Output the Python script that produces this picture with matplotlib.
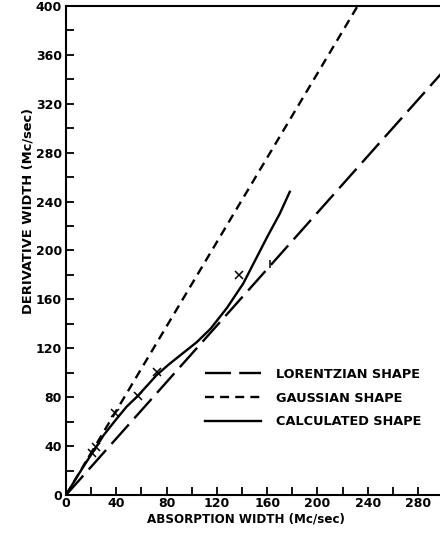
import numpy as np
import matplotlib
matplotlib.use("Agg")
import matplotlib.pyplot as plt

lor_x = [0, 300]
lor_y = [0, 346.4]
gau_x = [0, 232]
gau_y = [0, 400]
calc_x = [0, 10, 20, 30, 40, 48, 57, 65, 72, 82, 93, 104, 115, 128, 141, 150, 160, 170, 178]
calc_y = [0, 17, 33, 49, 62, 72, 81, 90, 98, 107, 116, 125, 136, 153, 173, 191, 211, 230, 248]
pts_x = [20.7, 23.8, 39, 57.3, 72.4, 137.8]
pts_y = [34.4, 39, 67, 81, 100.5, 180]
lor_mark_x = [162]
lor_mark_y = [189]

xticks = np.arange(0, 300, 20)
yticks = np.arange(0, 401, 20)

plt.rcParams['font.family'] = ['DejaVu Sans']
plt.rcParams['font.weight'] = 'bold'

fig = plt.figure(figsize=(4.4, 5.41), dpi=100)
ax = fig.add_axes([0.15, 0.085, 0.85, 0.904])

ax.plot(lor_x, lor_y, color='black', lw=1.7, dashes=(11, 3.5), label='LORENTZIAN SHAPE')
ax.plot(gau_x, gau_y, color='black', lw=1.7, dashes=(3.8, 2.6), label='GAUSSIAN SHAPE')
ax.plot(calc_x, calc_y, color='black', lw=1.7, label='CALCULATED SHAPE')
ax.plot(pts_x, pts_y, ls='none', marker='x', ms=5.5, mew=1.1, color='black')
ax.plot(lor_mark_x, lor_mark_y, ls='none', marker='|', ms=6, mew=1.1, color='black')

ax.set_xlim(0, 297.5)
ax.set_ylim(0, 400)
ax.set_xticks(xticks)
ax.set_xticklabels([str(v) if v % 40 == 0 else '' for v in xticks])
ax.set_yticks(yticks)
ax.set_yticklabels([str(v) if v % 40 == 0 else '' for v in yticks])
ax.tick_params(direction='in', length=6, width=1.3, labelsize=9, pad=3)
ax.tick_params(axis='x', pad=1.5)
for s in ['left', 'bottom', 'top']:
    ax.spines[s].set_linewidth(1.5)
ax.spines['right'].set_visible(False)

ax.set_xlabel('ABSORPTION WIDTH (Mc/sec)', fontsize=8.6, fontweight='bold')
ax.xaxis.set_label_coords(0.48, -0.036)
ax.set_ylabel('DERIVATIVE WIDTH (Mc/sec)', fontsize=9.4, fontweight='bold')
ax.yaxis.set_label_coords(-0.085, 0.58)

leg = ax.legend(loc='center left', bbox_to_anchor=(0.372, 0.198), frameon=False,
                fontsize=9.3, handlelength=4.3, handletextpad=1.15, labelspacing=0.83,
                borderpad=0, borderaxespad=0)

fig.savefig('out.png', dpi=100)
